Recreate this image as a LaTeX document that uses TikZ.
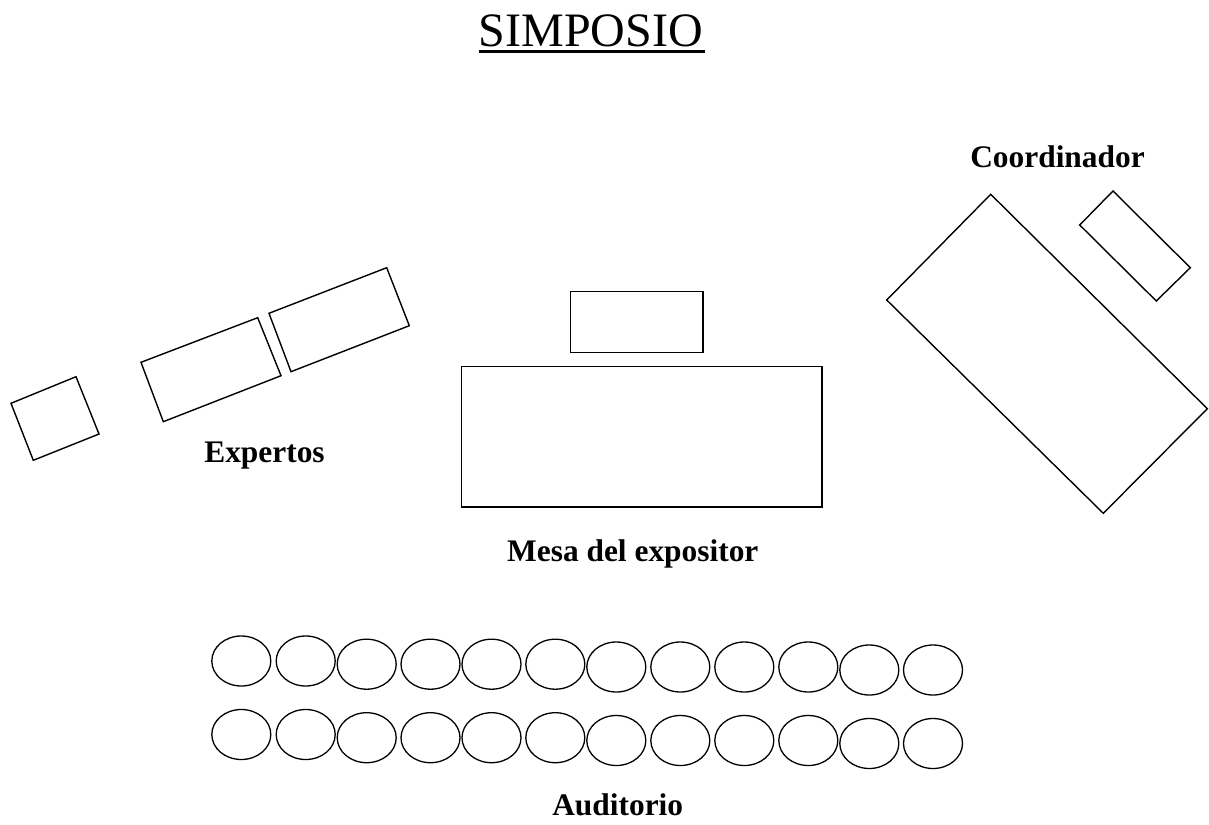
\documentclass[tikz,border=0pt]{standalone}
\usepackage{fontspec}
\setmainfont{Liberation Serif}
\usepackage{tikz}
\usetikzlibrary{shapes.geometric}

\begin{document}
\begin{tikzpicture}[x=1pt,y=-1pt,
  mesa/.style={draw,line width=1.4pt},
  silla/.style={ellipse,draw,line width=1.3pt,minimum width=59pt,minimum height=50pt,inner sep=0pt},
  titulo/.style={font=\fontsize{48}{58}\selectfont,inner sep=0pt,anchor=base},
  rotulo/.style={font=\bfseries\fontsize{31.4}{38}\selectfont,inner sep=0pt,anchor=base}]
\useasboundingbox (0,0) rectangle (1209,824);
\node (simposio) at (590.8,46.7) [titulo] {SIMPOSIO};
\draw [line width=2.7pt] ([yshift=-4.6pt]simposio.base west) -- ([yshift=-4.6pt,xshift=2pt]simposio.base east);
\draw [mesa] (11,403.3) -- (76,376.7) -- (99,434) -- (33.3,460.3) -- cycle;
\draw [mesa] (141,362.3) -- (257.7,317.7) -- (281,375.7) -- (163.3,421.7) -- cycle;
\draw [mesa] (269,313.3) -- (386.7,267.7) -- (409.3,325.7) -- (291,371.7) -- cycle;
\node (expertos) at (264.5,462.3) [rotulo] {Expertos};
\node (atril) at (636.8,322) [mesa,minimum width=132.3pt,minimum height=61.4pt,inner sep=0pt] {};
\node (mesa) at (641.8,436.8) [mesa,minimum width=360.3pt,minimum height=140.3pt,inner sep=0pt] {};
\node (expositor) at (632.8,561) [rotulo] {Mesa del expositor};
\draw [mesa] (990.7,194.3) -- (1207.3,408.7) -- (1103.3,513.3) -- (886.7,300) -- cycle;
\draw [mesa] (1113,191) -- (1190.3,267.7) -- (1156.3,301) -- (1079.7,225) -- cycle;
\node (coordinador) at (1057.5,167.3) [rotulo] {Coordinador};
\foreach \x/\y [count=\i] in {241.3/661,305.7/661,366.7/664.2,430.5/664.2,491.5/664.2,555.3/664.2,616.3/667,680.3/667,744.3/667,808.3/667,869.3/670,933/670}
{
\node (a\i) at (\x,\y) [silla] {};
\node (b\i) at (\x,\y+73.5) [silla] {};
}
\node (auditorio) at (617.7,815) [rotulo] {Auditorio};
\end{tikzpicture}
\end{document}
